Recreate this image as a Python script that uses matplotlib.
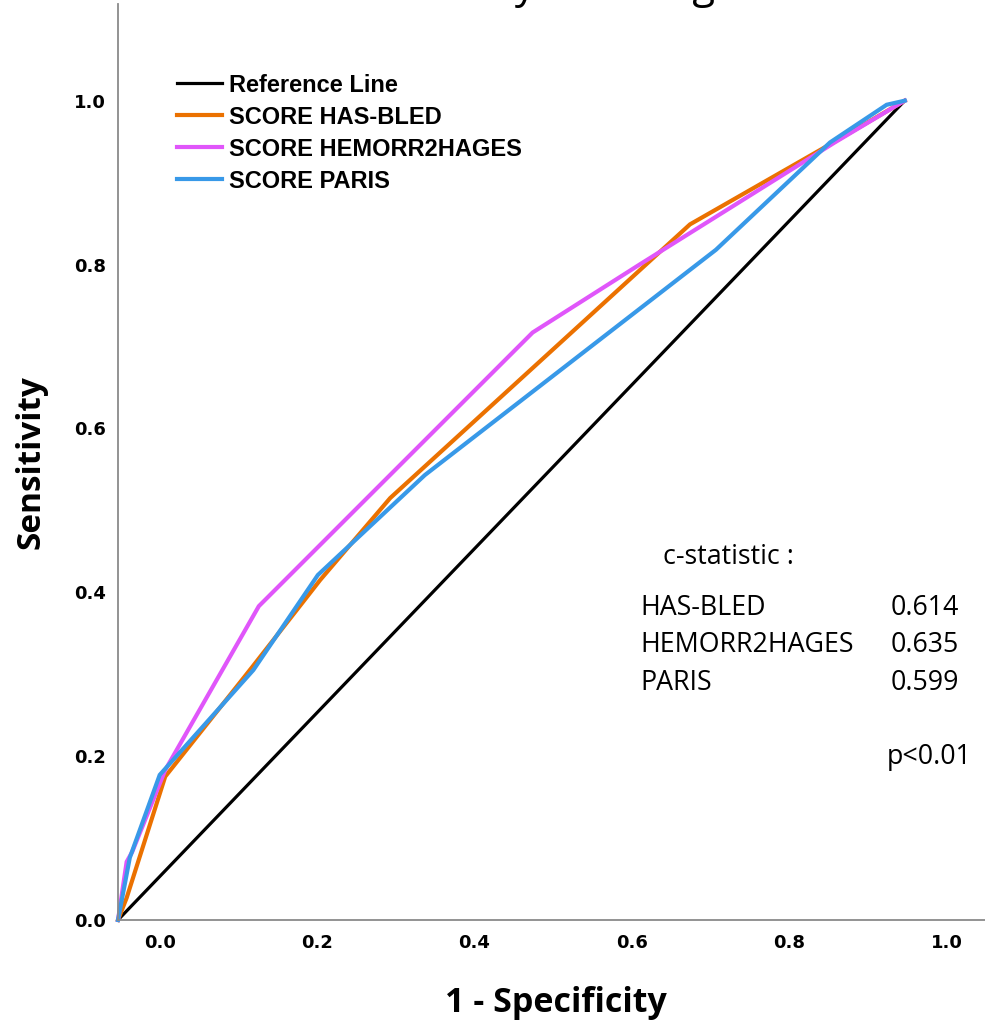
import matplotlib
matplotlib.use('Agg')
import matplotlib.pyplot as plt

# ROC points (1 - specificity, sensitivity)
ref_fpr = [0.0, 1.0]
ref_tpr = [0.0, 1.0]

hasbled_fpr = [0.0, 0.011, 0.060, 0.170, 0.257, 0.346, 0.727, 0.911, 1.0]
hasbled_tpr = [0.0, 0.027, 0.175, 0.308, 0.415, 0.515, 0.849, 0.950, 1.0]

hemorr_fpr = [0.0, 0.011, 0.018, 0.060, 0.179, 0.527, 0.663, 0.911, 1.0]
hemorr_tpr = [0.0, 0.071, 0.083, 0.183, 0.383, 0.717, 0.800, 0.949, 1.0]

paris_fpr = [0.0, 0.015, 0.053, 0.172, 0.254, 0.390, 0.760, 0.905, 0.977, 1.0]
paris_tpr = [0.0, 0.076, 0.177, 0.305, 0.421, 0.543, 0.818, 0.949, 0.995, 1.0]

series_labels = ['Reference Line', 'SCORE HAS-BLED', 'SCORE HEMORR2HAGES', 'SCORE PARIS']
series_colors = ['#000000', '#EB7100', '#E056FA', '#3899E8']

c_names = ['HAS-BLED', 'HEMORR2HAGES', 'PARIS']
c_values = [0.614, 0.635, 0.599]

tick_values = [0.0, 0.2, 0.4, 0.6, 0.8, 1.0]
x_tick_shift = 0.053  # x tick labels sit a bit to the right in the original

fig = plt.figure(figsize=(9.85, 10.24), dpi=100)
ax = fig.add_axes([0.1198, 0.1016, 0.8802, 0.8945])

curves = [(ref_fpr, ref_tpr), (hasbled_fpr, hasbled_tpr),
          (hemorr_fpr, hemorr_tpr), (paris_fpr, paris_tpr)]
for i, (fx, fy) in enumerate(curves):
    lw = 2.3 if i == 0 else 3.0
    ax.plot(fx, fy, color=series_colors[i], lw=lw, label=series_labels[i],
            clip_on=False, solid_joinstyle='miter')

ax.set_xlim(0, 1.102)
ax.set_ylim(0, 1.118)

ax.set_yticks(tick_values)
ax.set_yticklabels([f'{v:.1f}' for v in tick_values])
ax.set_xticks([v + x_tick_shift for v in tick_values])
ax.set_xticklabels([f'{v:.1f}' for v in tick_values])
ax.tick_params(axis='both', length=0, labelsize=13)
ax.tick_params(axis='y', pad=8.5)
ax.tick_params(axis='x', pad=10)
for lab in ax.get_xticklabels() + ax.get_yticklabels():
    lab.set_fontweight('bold')
    lab.set_family('DejaVu Sans')

for s in ['top', 'right']:
    ax.spines[s].set_visible(False)
for s in ['left', 'bottom']:
    ax.spines[s].set_color('#8a8a8a')
    ax.spines[s].set_linewidth(1.3)

ax.set_xlabel('1 - Specificity', fontsize=24.5, fontweight='bold', family='Open Sans')
ax.xaxis.set_label_coords(0.505, -0.072)
ax.set_ylabel('Sensitivity', fontsize=24, fontweight='bold', family='Open Sans')
ax.yaxis.set_label_coords(-0.081, 0.5)

ax.legend(loc='upper left', bbox_to_anchor=(0.068, 0.924), frameon=False,
          prop={'family': 'Liberation Sans', 'weight': 'bold', 'size': 17},
          handlelength=1.9, handletextpad=0.3, labelspacing=0.38,
          borderpad=0, borderaxespad=0)

txt = dict(transform=ax.transAxes, family='Open Sans', fontsize=19.3, va='center')
ax.text(0.629, 0.396, 'c-statistic :', **txt)
for i, name in enumerate(c_names):
    y = 0.341 - i * 0.041
    ax.text(0.602, y, name, **txt)
    ax.text(0.891, y, f'{c_values[i]:.3f}', **txt)
ax.text(0.985, 0.178, 'p<0.01', ha='right', **txt)

# title is mostly cut off at the top edge in the original
fig.text(0.598, 1.002, 'Any Bleeding', ha='center', va='baseline',
         family='Open Sans', fontsize=30)

fig.savefig('out.png', dpi=100)
